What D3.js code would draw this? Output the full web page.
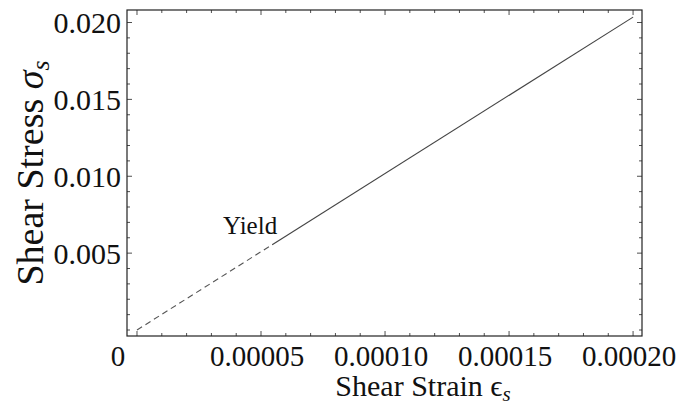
<!DOCTYPE html>
<html><head><meta charset="utf-8">
<script src="https://cdn.jsdelivr.net/npm/d3@7"></script>
<style>
html,body{margin:0;padding:0;background:#fff;}
text{font-family:"Liberation Serif","DejaVu Serif",serif;fill:#111;}
</style></head>
<body><svg id="c" width="686" height="417"></svg>
<script>
// Data
const elasticStrain = [0, 0.0000545];
const elasticStress = [0, 0.00555];
const plasticStrain = [0.0000545, 0.0002];
const plasticStress = [0.00555, 0.02035];
const yieldLabel = "Yield";
const xMajorTicks = [0, 0.00005, 0.0001, 0.00015, 0.0002];
const xTickLabels = ["0", "0.00005", "0.00010", "0.00015", "0.00020"];
const yMajorTicks = [0.005, 0.010, 0.015, 0.020];
const yTickLabels = ["0.005", "0.010", "0.015", "0.020"];
const xDomain = [-0.00000403, 0.0002036];
const yDomain = [-0.00039, 0.020813];

const svg = d3.select("#c");
const L = 127, R = 642, T = 10, B = 336;
const x = d3.scaleLinear().domain(xDomain).range([L, R]);
const y = d3.scaleLinear().domain(yDomain).range([B, T]);
const frameColor = "#222";

const xMinor = d3.range(0, 21).map(i => i * 0.00001);
const yMinor = d3.range(0, 21).map(i => i * 0.001);
const isXMajor = v => xMajorTicks.some(t => Math.abs(t - v) < 1e-9);
const isYMajor = v => yMajorTicks.some(t => Math.abs(t - v) < 1e-9);

const g = svg.append("g");
xMinor.forEach(v => {
  const len = isXMajor(v) ? 5 : 3;
  g.append("line").attr("x1", x(v)).attr("x2", x(v)).attr("y1", B).attr("y2", B - len)
    .attr("stroke", frameColor).attr("stroke-width", 0.8);
  g.append("line").attr("x1", x(v)).attr("x2", x(v)).attr("y1", T).attr("y2", T + len)
    .attr("stroke", frameColor).attr("stroke-width", 0.8);
});
yMinor.forEach(v => {
  const len = isYMajor(v) ? 5 : 3;
  g.append("line").attr("y1", y(v)).attr("y2", y(v)).attr("x1", L).attr("x2", L + len)
    .attr("stroke", frameColor).attr("stroke-width", 0.8);
  g.append("line").attr("y1", y(v)).attr("y2", y(v)).attr("x1", R).attr("x2", R - len)
    .attr("stroke", frameColor).attr("stroke-width", 0.8);
});

// frame
svg.append("rect").attr("x", L).attr("y", T).attr("width", R - L).attr("height", B - T)
  .attr("fill", "none").attr("stroke", frameColor).attr("stroke-width", 1.2);

// x tick labels
xMajorTicks.forEach((v, i) => {
  const dx = v === 0 ? -19 : -4;
  svg.append("text").attr("x", x(v) + dx).attr("y", 366)
    .attr("text-anchor", "middle").attr("font-size", 29).text(xTickLabels[i]);
});
// y tick labels
yMajorTicks.forEach((v, i) => {
  svg.append("text").attr("x", 121).attr("y", y(v)).attr("dy", "0.35em")
    .attr("text-anchor", "end").attr("font-size", 30).text(yTickLabels[i]);
});

// lines
const line = d3.line().x(d => x(d[0])).y(d => y(d[1]));
const elastic = elasticStrain.map((v, i) => [v, elasticStress[i]]);
const plastic = plasticStrain.map((v, i) => [v, plasticStress[i]]);
svg.append("path").attr("d", line(elastic)).attr("fill", "none")
  .attr("stroke", "#555").attr("stroke-width", 1.1).attr("stroke-dasharray", "6,4");
svg.append("path").attr("d", line(plastic)).attr("fill", "none")
  .attr("stroke", "#444").attr("stroke-width", 1.1);

// yield label
svg.append("text").attr("x", x(elasticStrain[1]) + 5).attr("y", y(elasticStress[1]) - 11)
  .attr("text-anchor", "end").attr("font-size", 25).text(yieldLabel);

// x title
const xt = svg.append("text").attr("x", 423).attr("y", 396).attr("text-anchor", "middle").attr("font-size", 30);
xt.append("tspan").text("Shear Strain ");
xt.append("tspan").text("\u03F5");
xt.append("tspan").attr("font-size", 21).attr("font-style", "italic").attr("dy", 5).text("s");

// y title
const yt = svg.append("text").attr("transform", "translate(43,173) rotate(-90)")
  .attr("text-anchor", "middle").attr("font-size", 38);
yt.append("tspan").text("Shear Stress ");
yt.append("tspan").attr("font-style", "italic").text("\u03C3");
yt.append("tspan").attr("font-size", 26).attr("font-style", "italic").attr("dy", 6).text("s");
</script></body></html>
